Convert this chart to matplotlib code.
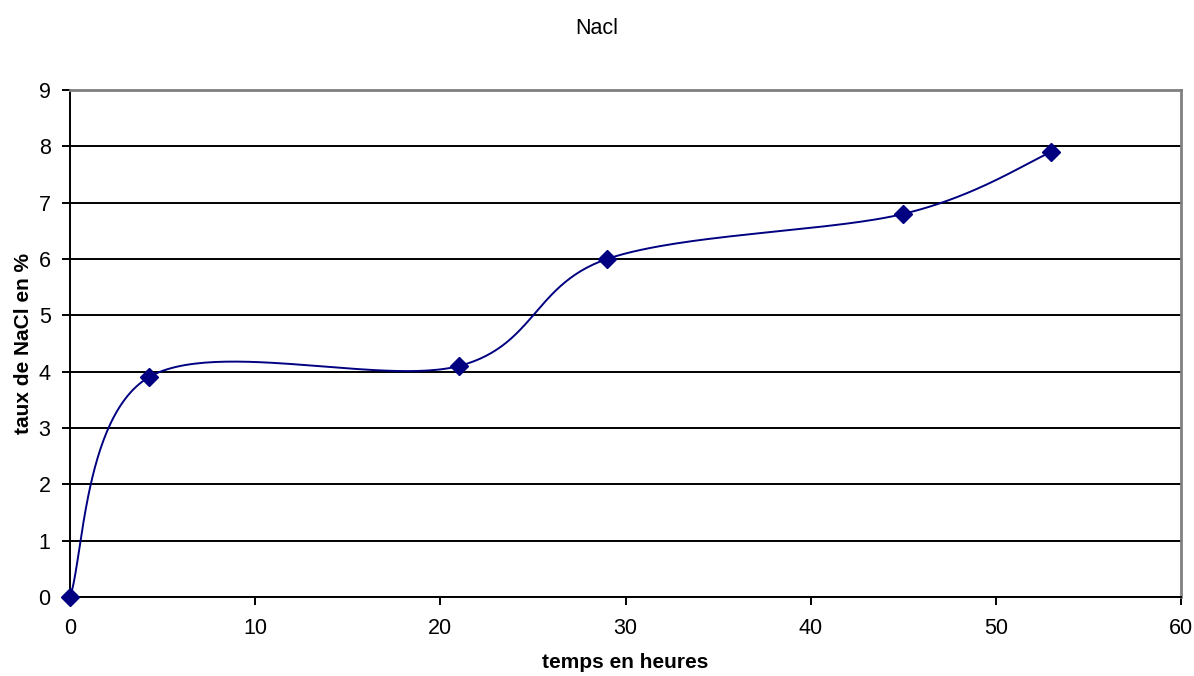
import numpy as np
import matplotlib.pyplot as plt

plt.rcParams["font.family"] = ["Liberation Sans", "DejaVu Sans"]

# measured NaCl content over time
temps = [0, 4.25, 21, 29, 45, 53]
taux = [0, 3.9, 4.1, 6.0, 6.8, 7.9]


def smooth_curve(x, y, n=60):
    """Bezier smoothing through every point (spreadsheet-style smoothed line)."""
    p = np.column_stack([x, y]).astype(float)
    ext = np.vstack([p[0], p, p[-1]])
    t = np.linspace(0, 1, n)[:, None]
    out = []
    for i in range(len(p) - 1):
        p0, p1 = ext[i + 1], ext[i + 2]
        c1 = p0 + (ext[i + 2] - ext[i]) / 6
        c2 = p1 - (ext[i + 3] - ext[i + 1]) / 6
        seg = ((1 - t) ** 3) * p0 + 3 * ((1 - t) ** 2) * t * c1 \
            + 3 * (1 - t) * t ** 2 * c2 + t ** 3 * p1
        out.append(seg if i == 0 else seg[1:])
    seg = np.vstack(out)
    return seg[:, 0], seg[:, 1]


fig = plt.figure(figsize=(11.94, 6.76), dpi=100)
ax = fig.add_axes([70 / 1194, 79 / 676, 1111 / 1194, 507 / 676])

sx, sy = smooth_curve(temps, taux)
ax.plot(sx, sy, color="#000080", lw=1.4, zorder=3)
ax.plot(temps, taux, ls="none", marker="D", ms=9, color="#000080",
        zorder=4, clip_on=False)

ax.set_xlim(0, 60)
ax.set_ylim(0, 9)
ax.set_xticks(range(0, 61, 10))
ax.set_yticks(range(0, 10))
ax.yaxis.grid(True, color="black", lw=1.4)
ax.set_axisbelow(True)

for side in ("top", "right"):
    ax.spines[side].set_color("#808080")
    ax.spines[side].set_linewidth(2)
for side in ("left", "bottom"):
    ax.spines[side].set_color("black")
    ax.spines[side].set_linewidth(1.4)

ax.tick_params(axis="both", direction="out", length=6, width=1.4,
               labelsize=15.5)
ax.tick_params(axis="x", pad=9)
ax.tick_params(axis="y", pad=8)

ax.set_xlabel("temps en heures", fontsize=15, fontweight="bold", labelpad=10)
ax.set_ylabel("taux de NaCl en %", fontsize=15, fontweight="bold", labelpad=4)
fig.text(0.5, 1 - 29 / 676, "Nacl", ha="center", va="center", fontsize=15.5)

fig.savefig("out.png", dpi=100)
